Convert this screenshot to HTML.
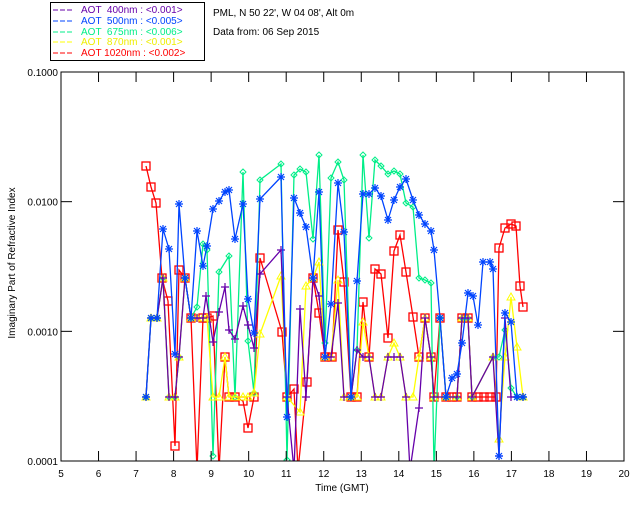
<!DOCTYPE html>
<html><head><meta charset="utf-8"><style>
body{margin:0;background:#fff;}
svg{display:block;font-family:"Liberation Sans",sans-serif;}
text{white-space:pre;}
</style></head><body>
<svg id="s" width="640" height="512" xmlns="http://www.w3.org/2000/svg">
<rect width="640" height="512" fill="#fff"/>
<defs><clipPath id="c"><rect x="61" y="72" width="563" height="389"/></clipPath></defs>
<g id="data" clip-path="url(#c)"></g>
<rect x="61" y="72" width="563" height="389" fill="none" stroke="#000" stroke-width="1"/>
<g id="ticks" stroke="#000" stroke-width="1"></g>
<g font-size="10" fill="#000" id="labels"></g>
<text x="342" y="491" font-size="10" text-anchor="middle">Time (GMT)</text>
<text transform="translate(15,263) rotate(-90)" font-size="10" text-anchor="middle">Imaginary Part of Refractive Index</text>
<rect x="50.5" y="2.5" width="154" height="58" fill="#fff" stroke="#000"/>
<g font-size="10">
<line x1="53" y1="10" x2="74" y2="10" stroke="#6600aa" stroke-dasharray="5,2"/><text x="81" y="13" fill="#6600aa" xml:space="preserve">AOT  400nm : &lt;0.001&gt;</text>
<line x1="53" y1="21" x2="74" y2="21" stroke="#0044ff" stroke-dasharray="5,2"/><text x="81" y="24" fill="#0044ff" xml:space="preserve">AOT  500nm : &lt;0.005&gt;</text>
<line x1="53" y1="32" x2="74" y2="32" stroke="#00ee88" stroke-dasharray="5,2"/><text x="81" y="35" fill="#00ee88" xml:space="preserve">AOT  675nm : &lt;0.006&gt;</text>
<line x1="53" y1="42" x2="74" y2="42" stroke="#ffff00" stroke-dasharray="5,2"/><text x="81" y="45" fill="#eeee00" xml:space="preserve">AOT  870nm : &lt;0.001&gt;</text>
<line x1="53" y1="53" x2="74" y2="53" stroke="#ff0000" stroke-dasharray="5,2"/><text x="81" y="56" fill="#ff0000" xml:space="preserve">AOT 1020nm : &lt;0.002&gt;</text>
</g>
<text x="213" y="16" font-size="10">PML, N 50 22', W 04 08', Alt 0m</text>
<text x="213" y="35" font-size="10">Data from: 06 Sep 2015</text>
</svg>
<script>
var NS="http://www.w3.org/2000/svg";
function el(p,t,a){var e=document.createElementNS(NS,t);for(var k in a)e.setAttribute(k,a[k]);p.appendChild(e);return e;}
var tk=document.getElementById('ticks'),lb=document.getElementById('labels');
for(var h=5;h<=20;h++){var x=61+(h-5)*563/15;
 el(tk,'line',{x1:x,y1:461,x2:x,y2:451});el(tk,'line',{x1:x,y1:72,x2:x,y2:82});
 var t=el(lb,'text',{x:x,y:477,'text-anchor':'middle'});t.textContent=h;}
var yl=['0.1000','0.0100','0.0010','0.0001'];
for(var d=0;d<4;d++){var y=72+d*129.67;
 el(tk,'line',{x1:61,y1:y,x2:72,y2:y});el(tk,'line',{x1:624,y1:y,x2:613,y2:y});
 var t=el(lb,'text',{x:58,y:y+4,'text-anchor':'end'});t.textContent=yl[d];}
function P(s){return s.trim().split(/\s+/).map(function(p){return p.split(',').map(Number);});}
var red=P("146,166 151,187 156,203 162,278 168,301 175,446 179,270 185,278 191,318 197,470 203,318 207,318 213,316 219,470 225,357 229,397 235,397 243,401 248,428 254,397 260,258 282,332 287,397 294,389 298,470 307,382 313,278 319,313 325,357 332,357 338,230 344,282 351,397 357,397 363,302 369,357 375,269 381,274 388,338 394,251 400,235 406,272 413,317 419,357 425,318 431,357 434,397 440,318 446,397 452,397 457,397 462,318 468,318 472,397 478,397 484,397 490,397 496,397 499,248 505,228 511,224 516,226 520,286 523,307");
var blue=P("146,397 151,318 157,318 163,229 169,249 175,354 179,204 185,278 191,318 197,231 203,266 207,246 213,209 219,201 225,192 229,190 235,239 243,204 248,299 254,333 260,199 281,177 287,417 294,198 300,213 306,227 313,278 319,192 325,357 331,304 338,183 344,232 351,397 357,281 363,194 369,194 375,188 381,196 388,220 394,200 400,187 406,179 413,200 419,215 425,224 431,231 434,250 440,318 446,397 452,378 457,374 462,343 468,293 473,296 478,325 483,262 490,262 493,269 499,456 505,313 511,322 517,397 523,397");
var green=P("146,397 151,318 157,318 163,278 169,397 175,397 179,357 185,278 191,318 197,307 203,244 207,250 213,456 219,272 229,256 235,397 243,172 248,341 254,393 260,180 281,164 287,460 294,175 300,169 306,172 313,239 319,155 325,343 331,178 338,162 344,180 351,397 357,350 363,155 369,238 375,160 381,166 388,174 394,171 400,174 406,203 413,207 419,278 425,280 431,283 434,470 440,318 446,397 457,397 462,318 468,318 472,397 493,357 499,357 505,330 511,388 517,397 523,397");
var yellow=P("146,397 151,318 157,318 163,278 169,397 175,397 179,357 185,278 191,318 197,318 203,318 207,318 213,397 219,397 225,357 229,397 235,397 243,397 248,397 254,393 260,334 281,276 287,397 300,412 306,286 313,278 319,262 325,357 331,357 338,280 344,397 351,397 357,397 363,322 369,357 375,397 381,397 388,357 394,343 400,357 406,397 413,397 419,357 425,318 431,357 434,397 446,397 457,397 462,318 468,318 472,397 493,357 499,439 505,357 511,297 517,347 523,397");
var purple=P("146,397 151,318 157,318 163,278 169,397 175,397 179,357 185,278 191,318 197,318 203,318 206,296 213,342 219,312 225,287 229,330 235,339 243,306 248,325 254,348 260,274 281,250 287,397 294,470 300,309 306,397 313,278 319,296 325,357 331,357 338,303 344,397 351,397 357,350 363,357 369,357 375,397 381,397 388,357 394,357 400,357 406,397 410,470 419,408 425,318 431,357 434,397 446,397 457,397 462,318 468,318 472,397 493,357 499,456 505,318 511,397 517,397 523,397");
var g=document.getElementById('data');
function draw(pts,col,mk){
 el(g,'polyline',{points:pts.map(function(p){return p.join(',')}).join(' '),fill:'none',stroke:col,'stroke-width':1.3});
 pts.forEach(function(p){var x=p[0],y=p[1];
  if(mk=='sq')el(g,'rect',{x:x-4,y:y-4,width:8,height:8,fill:'none',stroke:col,'stroke-width':1.3});
  else if(mk=='di')el(g,'polygon',{points:(x)+','+(y-3)+' '+(x+3)+','+y+' '+x+','+(y+3)+' '+(x-3)+','+y,fill:'none',stroke:col});
  else if(mk=='tr')el(g,'polygon',{points:x+','+(y-4)+' '+(x+4)+','+(y+3)+' '+(x-4)+','+(y+3),fill:'none',stroke:col});
  else if(mk=='pl'){el(g,'path',{d:'M'+(x-4)+' '+y+'h8M'+x+' '+(y-4)+'v8',stroke:col,'stroke-width':1.2});}
  else if(mk=='as'){el(g,'path',{d:'M'+(x-4)+' '+y+'h8M'+x+' '+(y-4)+'v8M'+(x-3)+' '+(y-3)+'l6 6M'+(x+3)+' '+(y-3)+'l-6 6',stroke:col,'stroke-width':1.2});}
 });}
draw(red,'#ff0000','sq');
draw(green,'#00ee88','di');
draw(yellow,'#ffff00','tr');
draw(purple,'#6600aa','pl');
draw(blue,'#0044ff','as');
</script>
</body></html>
